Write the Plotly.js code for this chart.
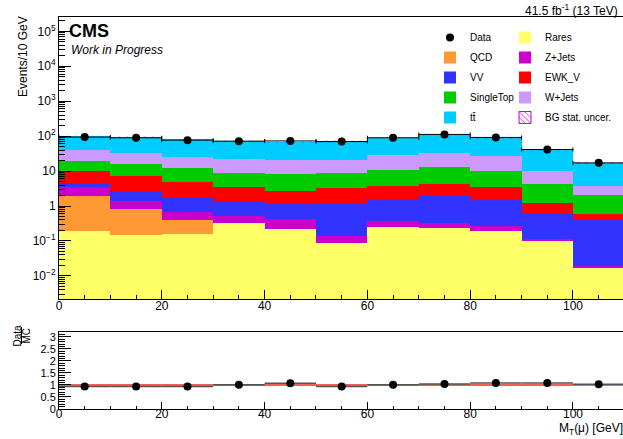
<!DOCTYPE html>
<html>
<head>
<meta charset="utf-8">
<script src="https://cdn.plot.ly/plotly-3.0.1.min.js"></script>
<style>
html,body{margin:0;padding:0;background:#fff;}
#chart{width:623px;height:439px;}
</style>
</head>
<body>
<div id="chart"></div>
<script>
// ---- data (events per 10 GeV bin, MT(mu)) ----
const binEdges   = [0,10,20,30,40,50,60,70,80,90,100,110];
const binCenters = [5,15,25,35,45,55,65,75,85,95,105];
const binHalfWidth = [5,5,5,5,5,5,5,5,5,5,5];

const rares     = [0.194,0.146,0.159,0.336,0.226,0.086,0.247,0.24,0.19,0.10,0.0173];
const qcd       = [1.72,0.70,0.25,0,0,0,0,0,0,0,0];
const zjets     = [1.59,0.59,0.27,0.18,0.19,0.053,0.12,0.09,0.07,0.017,0.0017];
const vv        = [1.10,1.26,1.03,0.88,0.75,1.12,1.27,1.58,1.27,0.46,0.37];
const ewkv      = [5.5,4.4,3.2,2.2,1.53,1.94,2.06,2.3,1.97,0.68,0.19];
const singletop = [9.1,9.4,7.5,5.3,5.8,5.7,7.1,8.5,6.4,2.94,1.55];
const wjets     = [19.8,16.1,13.1,13.0,12.5,12.1,17.8,21.3,17.1,5.7,1.57];
const ttbar     = [62,63.4,55.5,50.1,47,52,61.4,74,59,29.1,13.1];
const bgStatErr = [2.5,2.4,2.1,1.9,1.8,1.9,2.3,2.6,2.2,1.2,0.7];

const dataVals  = [94,90,77,72,73,70,90,112,92,41.5,17.2];
const dataErr   = [9.7,9.5,8.8,8.5,8.5,8.4,9.5,10.6,9.6,6.4,4.1];

const ratioVals = [0.93,0.94,0.93,1.01,1.07,0.93,1.01,1.04,1.08,1.08,1.03];
const ratioErr  = [0.09,0.09,0.10,0.10,0.11,0.10,0.10,0.09,0.10,0.12,0.13];

const yMajorVals = [0.01,0.1,1,10,100,1000,10000,100000];
const yMajorText = ['10<sup>\u22122</sup>','10<sup>\u22121</sup>','1','10','10<sup>2</sup>','10<sup>3</sup>','10<sup>4</sup>','10<sup>5</sup>'];

// ---- build ----
const FONT = 'Liberation Sans, Arial, Helvetica, sans-serif';
const bgs = [
  {name:'Rares',     y:rares,     color:'#ffff66', legend:'legend2', rank:1},
  {name:'QCD',       y:qcd,       color:'#ff9933', legend:'legend',  rank:2},
  {name:'Z+Jets',    y:zjets,     color:'#cc00cc', legend:'legend2', rank:2},
  {name:'VV',        y:vv,        color:'#3333ff', legend:'legend',  rank:3},
  {name:'EWK_V',     y:ewkv,      color:'#ff0000', legend:'legend2', rank:3},
  {name:'SingleTop', y:singletop, color:'#00cc00', legend:'legend',  rank:4},
  {name:'W+Jets',    y:wjets,     color:'#cc99ff', legend:'legend2', rank:4},
  {name:'tt\u0304',  y:ttbar,     color:'#00ccff', legend:'legend',  rank:5}
];

const traces = bgs.map(b => ({
  type:'bar', name:b.name, x:binCenters, y:b.y, width:binEdges.slice(1).map((e,i)=>e-binEdges[i]),
  marker:{color:b.color, line:{width:0}},
  legend:b.legend, legendrank:b.rank, legendgroup:b.name, hoverinfo:'skip',
  xaxis:'x', yaxis:'y'
}));

// MC total and stat band (hatched)
const totals = binCenters.map((_,i)=>bgs.reduce((s,b)=>s+b.y[i],0));
const bx=[], by=[];
for(let i=0;i<binCenters.length;i++){ bx.push(binEdges[i],binEdges[i+1]); by.push(totals[i]+bgStatErr[i],totals[i]+bgStatErr[i]); }
for(let i=binCenters.length-1;i>=0;i--){ bx.push(binEdges[i+1],binEdges[i]); by.push(totals[i]-bgStatErr[i],totals[i]-bgStatErr[i]); }
traces.push({
  type:'scatter', mode:'lines', x:bx, y:by, fill:'toself',
  fillcolor:'rgba(0,0,0,0)', line:{width:0, color:'#cc00cc'},
  fillpattern:{shape:'\\', fgcolor:'#cc00cc', bgcolor:'rgba(0,0,0,0)', size:6, solidity:0.15},
  showlegend:false, hoverinfo:'skip', xaxis:'x', yaxis:'y'
});
// legend entry for the band (no plotted data)
traces.push({
  type:'bar', x:[null], y:[null], name:'BG stat. uncer.',
  marker:{color:'rgba(255,255,255,0)', line:{width:1, color:'#cc00cc'},
          pattern:{shape:'\\', fgcolor:'#cc00cc', bgcolor:'rgba(255,255,255,0)', size:5, solidity:0.2}},
  legend:'legend2', legendrank:5, legendgroup:'bgunc', hoverinfo:'skip', xaxis:'x', yaxis:'y'
});

// Data
traces.push({
  type:'scatter', mode:'markers', name:'Data', x:binCenters, y:dataVals,
  marker:{color:'#000', size:8},
  error_x:{type:'data', array:binHalfWidth, color:'#000', thickness:1, width:2},
  error_y:{type:'data', array:dataErr, color:'#000', thickness:1, width:0},
  legend:'legend', legendrank:1, legendgroup:'data', xaxis:'x', yaxis:'y'
});

// dummy trace for minor-tick overlay axis
traces.push({type:'scatter', x:[], y:[], xaxis:'x', yaxis:'y3', showlegend:false, hoverinfo:'skip'});

// Ratio
traces.push({
  type:'scatter', mode:'markers', name:'ratio', x:binCenters, y:ratioVals,
  marker:{color:'#000', size:8},
  error_x:{type:'data', array:binHalfWidth, color:'#555', thickness:1.5, width:0},
  error_y:{type:'data', array:ratioErr, color:'#000', thickness:1, width:0},
  showlegend:false, xaxis:'x2', yaxis:'y2'
});

const minorVals=[];
for(let d=-3; d<=5; d++){ for(let k=2;k<=9;k++){ minorVals.push(k*Math.pow(10,d)); } }

// pixel helpers for layout placement (plot area: x 59..623, y 17..409)
const px = p => (p-59)/564;
const py = p => (409-p)/392;

const XR = [0,109.73];
const YR = [-2.66,5.41];
const commonX = {
  range:XR, tick0:0, dtick:20, ticks:'inside', ticklen:9, tickcolor:'#000', tickwidth:1,
  showline:true, linecolor:'#000', linewidth:1, mirror:true, showgrid:false, zeroline:false,
  ticklabelstandoff:-4,
  tickfont:{size:12, family:FONT, color:'#000'},
  minor:{dtick:5, tick0:0, ticklen:4.5, ticks:'inside', tickcolor:'#000', showgrid:false}
};
const legendCommon = {
  yanchor:'top', bgcolor:'rgba(0,0,0,0)',
  font:{size:10, family:FONT, color:'#000'}, traceorder:'grouped', tracegroupgap:1, itemclick:false
};

const layout = {
  width:623, height:439,
  margin:{l:59, r:0, t:17, b:30, pad:0},
  paper_bgcolor:'#fff', plot_bgcolor:'#fff',
  barmode:'stack', bargap:0,
  font:{family:FONT, size:12, color:'#000'},
  showlegend:true,
  xaxis:Object.assign({}, commonX, {domain:[0,1], anchor:'y'}),
  yaxis:{domain:[py(299),1], anchor:'x', type:'log', range:YR,
         tickmode:'array', tickvals:yMajorVals, ticktext:yMajorText,
         ticks:'inside', ticklen:12, tickcolor:'#000',
         showline:true, linecolor:'#000', linewidth:1, mirror:false, showgrid:false, zeroline:false,
         tickfont:{size:12, family:FONT, color:'#000'}},
  yaxis3:{overlaying:'y', anchor:'x', side:'left', type:'log', range:YR,
          tickmode:'array', tickvals:minorVals, ticks:'inside', ticklen:6, tickcolor:'#000',
          showticklabels:false, showline:false, showgrid:false, zeroline:false},
  xaxis2:Object.assign({}, commonX, {domain:[0,1], anchor:'y2', ticklen:7, ticklabelstandoff:-6,
          minor:{dtick:5, tick0:0, ticklen:3.5, ticks:'inside', tickcolor:'#000', showgrid:false}}),
  yaxis2:{domain:[0,py(332)], anchor:'x2', range:[0,3.2], tick0:0, dtick:0.5,
          ticks:'inside', ticklen:12, tickcolor:'#000',
          showline:true, linecolor:'#000', linewidth:1, mirror:false, showgrid:false, zeroline:false,
          tickfont:{size:11, family:FONT, color:'#000'},
          minor:{dtick:0.1, tick0:0, ticklen:6, ticks:'inside', tickcolor:'#000', showgrid:false}},
  legend:Object.assign({}, legendCommon, {x:px(430), xanchor:'left', y:py(23)}),
  legend2:Object.assign({}, legendCommon, {x:px(505), xanchor:'left', y:py(23)}),
  shapes:[
    {type:'line', xref:'paper', yref:'y2', x0:0, x1:1, y0:1, y1:1, line:{color:'#f02828', width:1.5}, layer:'below'},
    {type:'line', xref:'paper', yref:'paper', x0:px(21.5), x1:px(21.5), y0:py(327), y1:py(344), line:{color:'#000', width:1}}
  ],
  annotations:[
    {text:'<b>CMS</b>', xref:'paper', yref:'paper', x:px(67), y:py(31), xanchor:'left', yanchor:'middle', showarrow:false, font:{size:18, family:FONT, color:'#000'}},
    {text:'<i>Work in Progress</i>', xref:'paper', yref:'paper', x:px(69), y:py(50), xanchor:'left', yanchor:'middle', showarrow:false, font:{size:12, family:FONT, color:'#000'}},
    {text:'41.5 fb<sup>-1</sup> (13 TeV)', xref:'paper', yref:'paper', x:px(620), y:py(10), xanchor:'right', yanchor:'middle', showarrow:false, font:{size:12, family:FONT, color:'#000'}},
    {text:'Events/10 GeV', xref:'paper', yref:'paper', x:px(23), y:py(57), xanchor:'center', yanchor:'middle', textangle:-90, showarrow:false, font:{size:12, family:FONT, color:'#000'}},
    {text:'Data', xref:'paper', yref:'paper', x:px(17), y:py(335.5), xanchor:'center', yanchor:'middle', textangle:-90, showarrow:false, font:{size:10, family:FONT, color:'#000'}},
    {text:'MC', xref:'paper', yref:'paper', x:px(26), y:py(335.5), xanchor:'center', yanchor:'middle', textangle:-90, showarrow:false, font:{size:10, family:FONT, color:'#000'}},
    {text:'M<sub>T</sub>(\u03bc) [GeV]', xref:'paper', yref:'paper', x:px(557), y:py(429), xanchor:'left', yanchor:'middle', showarrow:false, font:{size:12, family:FONT, color:'#000'}}
  ]
};

Plotly.newPlot('chart', traces, layout, {staticPlot:true, displayModeBar:false});
</script>
</body>
</html>
